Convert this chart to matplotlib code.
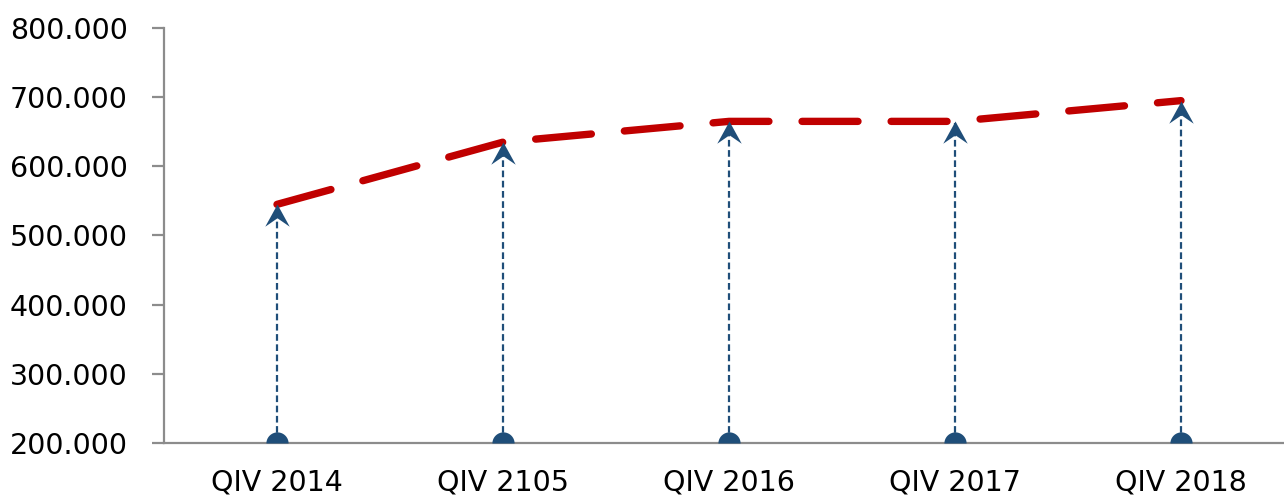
import matplotlib
matplotlib.use("Agg")
import matplotlib.pyplot as plt
from matplotlib.path import Path
from matplotlib.ticker import FuncFormatter, MultipleLocator
import numpy as np

categories = ["QIV 2014", "QIV 2105", "QIV 2016", "QIV 2017", "QIV 2018"]
values = [545000, 635000, 665000, 665000, 695000]
y_min, y_max, y_step = 200000, 800000, 100000

red = "#C00000"
blue = "#1F4E79"
gray = "#8C8C8C"

W, H = 1284, 498
fig = plt.figure(figsize=(W / 100, H / 100), dpi=100)
left, bottom_px, top_px = 164, 443, 28
step_px = 226
ax = fig.add_axes([left / W, (H - bottom_px) / H, 5 * step_px / W, (bottom_px - top_px) / H])

x = list(range(len(categories)))

# dashed red line
ax.plot(x, values, color=red, lw=5.3, linestyle=(0, (7.6, 4.5)),
        dash_capstyle="round", solid_capstyle="round", zorder=3)

# arrow head path (tip at origin)
head = Path([(0, 0), (0.55, -1.0), (0, -0.62), (-0.55, -1.0), (0, 0)],
            [Path.MOVETO, Path.LINETO, Path.LINETO, Path.LINETO, Path.CLOSEPOLY])

# half-circle path (flat side at origin)
t = np.linspace(0, np.pi, 40)
half = Path(np.column_stack([np.cos(t), np.sin(t)]).tolist() + [[1, 0]],
            [Path.MOVETO] + [Path.LINETO] * 39 + [Path.CLOSEPOLY])

for xi, v in zip(x, values):
    ax.plot([xi, xi], [y_min, v - 3000], color=blue, lw=1.6,
            linestyle=(0, (3, 1.6)), zorder=2)
    ax.plot([xi], [v], marker=head, markersize=32, color=blue,
            markeredgewidth=0, linestyle="none", zorder=4)
    ax.plot([xi], [y_min], marker=half, markersize=16, color=blue,
            markeredgewidth=0, linestyle="none", zorder=4, clip_on=False)

ax.set_xlim(-0.5, len(categories) - 0.5)
ax.set_ylim(y_min, y_max)
ax.yaxis.set_major_locator(MultipleLocator(y_step))
ax.yaxis.set_major_formatter(FuncFormatter(lambda v, p: f"{v:,.0f}".replace(",", ".")))
ax.set_xticks(x)
ax.set_xticklabels(categories)

for s in ["top", "right"]:
    ax.spines[s].set_visible(False)
for s in ["left", "bottom"]:
    ax.spines[s].set_color(gray)
    ax.spines[s].set_linewidth(1.6)
    ax.spines[s].set_zorder(1)

ax.tick_params(axis="y", length=9, width=1.6, color=gray, pad=17,
               labelsize=20.5, labelcolor="black")
ax.tick_params(axis="x", length=0, pad=18, labelsize=20.5, labelcolor="black")

fig.savefig("out.png", dpi=100)
